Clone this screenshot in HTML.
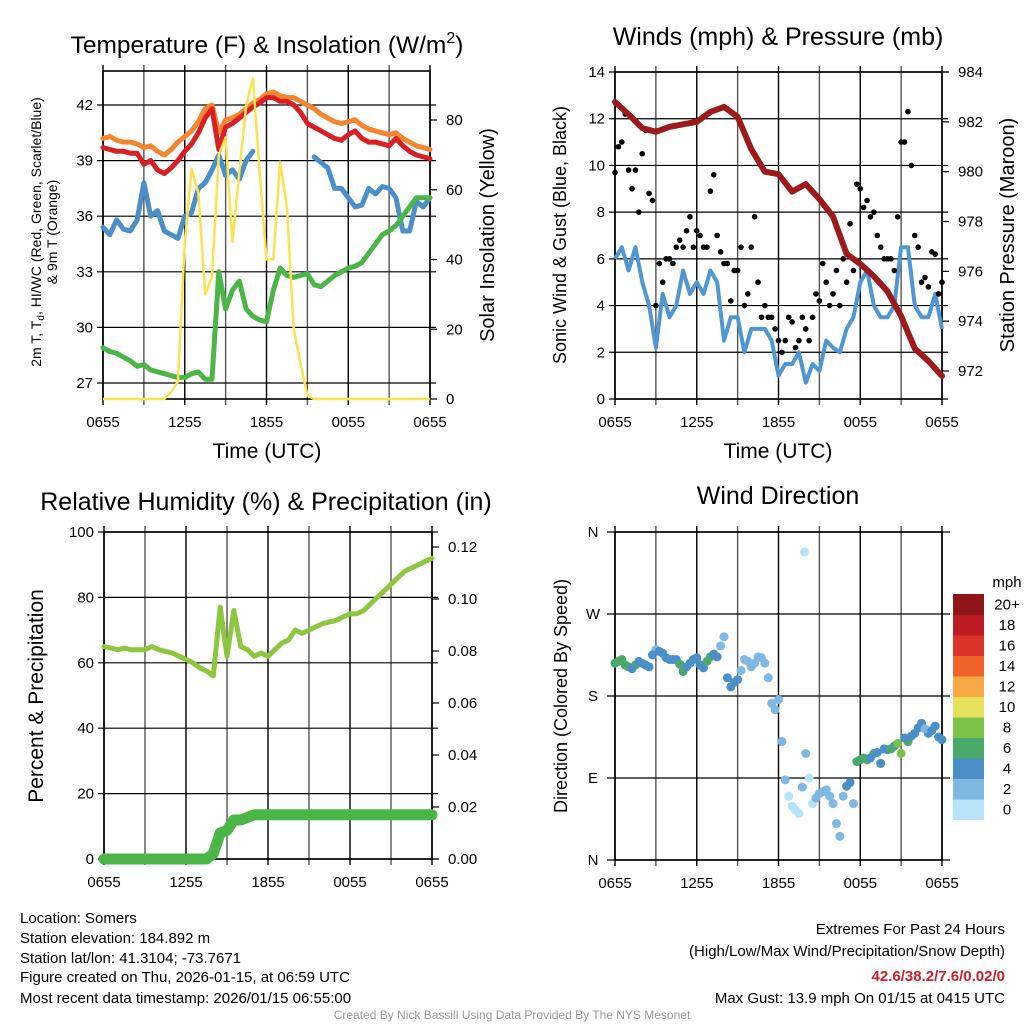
<!DOCTYPE html>
<html><head><meta charset="utf-8"><style>
html,body{margin:0;padding:0;background:#fff}
svg{display:block;font-family:"Liberation Sans",Arial,sans-serif}
</style></head><body>
<svg id="fig" width="1024" height="1024" viewBox="0 0 1024 1024" xmlns="http://www.w3.org/2000/svg">
<g id="static">
<text x="267" y="53" font-size="24.5" text-anchor="middle">Temperature (F) &amp; Insolation (W/m<tspan dy="-10" font-size="16">2</tspan><tspan dy="10">)</tspan></text>
<text x="778" y="45" font-size="25" text-anchor="middle">Winds (mph) &amp; Pressure (mb)</text>
<text x="266" y="510" font-size="25" text-anchor="middle">Relative Humidity (%) &amp; Precipitation (in)</text>
<text x="778" y="504" font-size="25" text-anchor="middle">Wind Direction</text>
<text x="267" y="458" font-size="21" text-anchor="middle">Time (UTC)</text>
<text x="778" y="458" font-size="21" text-anchor="middle">Time (UTC)</text>
<text transform="translate(41,232) rotate(-90)" font-size="14" text-anchor="middle">2m T, T<tspan dy="3" font-size="10">d</tspan><tspan dy="-3">, HI/WC (Red, Green, Scarlet/Blue)</tspan></text>
<text transform="translate(57,232) rotate(-90)" font-size="14" text-anchor="middle">&amp; 9m T (Orange)</text>
<text transform="translate(494,235) rotate(-90)" font-size="20" text-anchor="middle">Solar Insolation (Yellow)</text>
<text transform="translate(566,235) rotate(-90)" font-size="18" text-anchor="middle">Sonic Wind &amp; Gust (Blue, Black)</text>
<text transform="translate(1014,235) rotate(-90)" font-size="20" text-anchor="middle">Station Pressure (Maroon)</text>
<text transform="translate(43,696) rotate(-90)" font-size="21" text-anchor="middle">Percent &amp; Precipitation</text>
<text transform="translate(567,696) rotate(-90)" font-size="18" text-anchor="middle">Direction (Colored By Speed)</text>
<g font-size="15">
<text x="20" y="923">Location: Somers</text>
<text x="20" y="943">Station elevation: 184.892 m</text>
<text x="20" y="963">Station lat/lon: 41.3104; -73.7671</text>
<text x="20" y="982">Figure created on Thu, 2026-01-15, at 06:59 UTC</text>
<text x="20" y="1003">Most recent data timestamp: 2026/01/15 06:55:00</text>
</g>
<g font-size="15" text-anchor="end">
<text x="1005" y="934">Extremes For Past 24 Hours</text>
<text x="1005" y="956">(High/Low/Max Wind/Precipitation/Snow Depth)</text>
<text x="1005" y="981" fill="#c8202a" font-weight="bold">42.6/38.2/7.6/0.02/0</text>
<text x="1005" y="1003">Max Gust: 13.9 mph On 01/15 at 0415 UTC</text>
</g>
<text x="512" y="1019" font-size="12" fill="#999" text-anchor="middle">Created By Nick Bassill Using Data Provided By The NYS Mesonet</text>
</g>
<g id="dyn"></g>
</svg>
<script>
// ---- data (half-hourly, 0655 -> 0655) ----
var xTickLabels = ["0655","1255","1855","0055","0655"];
var tempTicks = [27,30,33,36,39,42];
var insolTicks = [0,20,40,60,80];
var tempRed = [39.7,39.6,39.5,39.5,39.4,39.4,38.8,39.0,38.5,38.3,38.6,39.0,39.5,39.9,40.5,41.3,41.8,39.6,40.8,41.0,41.3,41.6,41.9,42.1,42.4,42.4,42.2,42.2,42.0,41.6,41.0,40.8,40.6,40.4,40.2,40.1,40.4,40.6,40.2,40.0,40.0,39.9,39.8,40.2,39.8,39.5,39.3,39.2,39.1];
var tempOrange = [40.2,40.3,40.1,40.0,40.0,39.9,39.7,39.8,39.5,39.3,39.6,40.0,40.3,40.6,41.1,41.8,42.0,40.5,41.2,41.3,41.5,41.8,42.1,42.3,42.6,42.7,42.5,42.4,42.4,42.2,42.0,41.8,41.5,41.3,41.1,41.0,41.1,41.2,40.9,40.7,40.6,40.5,40.4,40.5,40.2,40.0,39.8,39.7,39.6];
var tempBlue = [35.4,35.0,35.8,35.3,35.2,35.8,37.8,36.0,36.3,35.2,35.0,34.8,36.0,36.2,37.5,37.8,38.5,39.3,38.2,38.5,38.0,39.0,39.5,null,null,null,null,null,null,null,null,39.2,38.9,38.6,37.5,37.5,37.0,36.5,36.6,37.5,37.2,37.6,37.5,37.0,35.2,35.2,36.8,36.5,37.0];
var tempGreen = [28.9,28.7,28.6,28.4,28.2,27.9,28.0,27.7,27.6,27.5,27.4,27.3,27.3,27.5,27.6,27.2,27.2,33.0,31.0,32.0,32.5,31.0,30.6,30.4,30.3,32.0,33.2,32.8,32.7,32.8,32.9,32.3,32.2,32.5,32.8,33.0,33.2,33.3,33.5,34.0,34.5,35.0,35.2,35.5,36.0,36.5,37.0,37.0,37.0];
var insolation = [0,0,0,0,0,0,0,0,0,0,2,5,45,66,59,30,35,70,75,45,65,84,92,65,40,40,68,55,20,10,1,0,0,0,0,0,0,0,0,0,0,0,0,0,0,0,0,0,0];
var windTicks = [0,2,4,6,8,10,12,14];
var pressTicks = [972,974,976,978,980,982,984];
var pressure = [982.8,982.3,981.75,981.6,981.8,981.9,982.0,982.4,982.6,982.2,980.9,980.0,979.9,979.2,979.5,978.9,978.2,976.7,976.3,975.8,975.2,974.2,972.9,972.4,971.8];
var windSpeed = [6,6.5,5.5,6.5,5,4,2.2,4.5,3.5,4,5.5,4.5,5,4.5,5.5,5,2.5,3.5,3.5,2,3,3,3,2.5,1,1.5,1.5,2,0.7,1.5,1.2,2.5,2.2,2,3,3.5,5,5.5,4,3.5,3.5,4,6.5,6.5,4,3.5,3.5,4.5,3];
var gustA = [9.7,11,9.8,9.8,10.5,8.8,4,5,6,6.5,6.5,7.8,7.2,6.5,8.9,7,5.8,4.2,5.5,4,6.5,5,4,3.5,2.5,2.5,3.3,2.5,3,3.5,4.2,5,4.5,4,5,5.5,9,8.5,8,6.5,6,5.5,11,12.3,7,5,4.8,6.2,5];
var gustB = [10.8,12.2,9,8,11.5,8.5,5.8,6,5.8,6.8,7.2,6.5,7,6.5,9.6,6.3,5.8,5.5,6.5,4.5,7.8,3.5,3.5,3.0,2,3.5,2.2,3.5,2.5,4.5,5.8,4,5.5,6,7.5,9.2,8.2,7.8,7,6,6,7.8,11,10,6.5,5.2,6.3,4.5];
var rhTicks = [0,20,40,60,80,100];
var precipTicks = [0,0.02,0.04,0.06,0.08,0.10,0.12];
var rh = [65,64.5,64,64.5,64,64,64,65,64,63.5,63,62,61,60,58.5,57.5,56,77,62,76,65,64,62,63,62,64,66,67,70,69,70,71,72,72.5,73,74,75,75,76,78,80,82,84,86,88,89,90,91,92];
var precip = [0,0,0,0,0,0,0,0,0,0,0,0,0,0,0,0,0.002,0.01,0.011,0.015,0.015,0.016,0.017,0.017,0.017,0.017,0.017,0.017,0.017,0.017,0.017,0.017,0.017,0.017,0.017,0.017,0.017,0.017,0.017,0.017,0.017,0.017,0.017,0.017,0.017,0.017,0.017,0.017,0.017];
var dirLabels = ["N","E","S","W","N"];
var dirA = [216,220,212,214,216,212,231,227,220,220,207,216,222,211,223,223,245,190,198,220,212,223,216,172,176,88,59,51,117,62,73,77,62,26,81,62,110,110,117,106,121,125,117,130,139,150,139,147,132];
var spdA = [6,6,6,6,4,4,2,4,4,4,6,4,4,4,6,4,2,4,4,2,2,2,2,2,2,2,0,0,2,0,2,2,2,2,4,2,6,6,6,4,4,4,8,6,4,4,4,4,4];
var dirB = [218,214,210,218,214,225,229,222,220,215,212,220,214,218,226,235,200,195,208,218,216,222,200,165,130,70,55,80,90,68,75,70,40,70,85,108,112,112,118,122,122,128,134,136,145,144,142,135];
var spdB = [6,6,4,4,4,4,4,4,4,6,4,4,4,6,4,2,4,4,2,2,2,2,2,2,2,0,0,2,0,2,2,2,2,2,4,6,6,4,4,4,6,8,4,4,4,2,4,4];
var outlierDir = [338]; var outlierHour = [13.9]; var outlierSpd = [0];
var cbLabels = ["0","2","4","6","8","10","12","14","16","18","20+"];
var cbColors = ["#b6e3f8","#7fb9e3","#4a8fc8","#4aa86a","#7bc24a","#e6e05a","#f6a945","#ef6229","#dc342b","#bd1c24","#8e1519"];

var NS="http://www.w3.org/2000/svg", dyn=document.getElementById('dyn');
function mk(tag,attrs,parent){var e=document.createElementNS(NS,tag);for(var k in attrs)e.setAttribute(k,attrs[k]);(parent||dyn).appendChild(e);return e;}
function lin(d0,d1,r0,r1){return function(v){return r0+(v-d0)/(d1-d0)*(r1-r0);};}
function pathFrom(vals,xf,yf){var d="",pen=false;vals.forEach(function(v,i){if(v===null){pen=false;return;}d+=(pen?"L":"M")+xf(i).toFixed(1)+","+yf(v).toFixed(1);pen=true;});return d;}

function frame(name,L,R,T,B){
  var g=mk('g',{});
  
  
  var xs=lin(0,24,L,R);
  for(var h=0;h<=24;h+=3){var x=xs(h);var gl=mk('line',{x1:x,x2:x,y1:T-6,y2:B+6,stroke:(h%6==0?'#000':'#555'),'stroke-width':1.4},g);}
  xTickLabels.forEach(function(t,i){var tx=mk('text',{x:xs(i*6),y:B+28,'font-size':15,'text-anchor':'middle'},g);tx.textContent=t;});
  var bx=mk('rect',{x:L,y:T,width:R-L,height:B-T,fill:'none',stroke:'#000','stroke-width':1.6},g);
  
  return g;
}
function hline(g,y,L,R,ext){var l=mk('line',{x1:L-ext,x2:R+ext,y1:y,y2:y,stroke:'#000','stroke-width':1.2},g);}
function ylabel(g,x,y,t,anchor){var e=mk('text',{x:x,y:y+5,'font-size':15,'text-anchor':anchor},g);e.textContent=t;}
function rtick(g,R,y){var l=mk('line',{x1:R,x2:R+7,y1:y,y2:y,stroke:'#000','stroke-width':1.2},g);}

// ---- Panel 1: temperature ----
(function(){
  var L=103,R=430,T=71,B=399;
  var g=frame('temperature',L,R,T,B);
  var xh=lin(0,48,L,R), yT=lin(27,42,383,105), yI=lin(0,80,399,120);
  tempTicks.forEach(function(v){hline(g,yT(v),L,R,6);ylabel(g,L-10,yT(v),String(v),'end');});
  insolTicks.forEach(function(v){rtick(g,R,yI(v));ylabel(g,R+16,yI(v),String(v),'start');});
  var series=[[tempOrange,'#f5852f','orange-9m-temp-line'],[tempRed,'#d81f26','red-2m-temp-line'],[tempBlue,'#4a8fca','blue-heat-index-line'],[tempGreen,'#4bb548','green-dewpoint-line']];
  series.forEach(function(s){var p=mk('path',{d:pathFrom(s[0],xh,yT),fill:'none',stroke:s[1],'stroke-width':5,'stroke-linejoin':'round','stroke-linecap':'round'});});
  var p=mk('path',{d:pathFrom(insolation,xh,yI),fill:'none',stroke:'#fde24f','stroke-width':2.5,'stroke-linejoin':'round'});
  
})();

// ---- Panel 2: winds & pressure ----
(function(){
  var L=615,R=942,T=72,B=399;
  var g=frame('winds',L,R,T,B);
  var xh=lin(0,48,L,R), xp=lin(0,24,L,R), yW=lin(0,14,399,72), yP=lin(972,984,371,72);
  windTicks.forEach(function(v){hline(g,yW(v),L,R,6);ylabel(g,L-10,yW(v),String(v),'end');});
  pressTicks.forEach(function(v){rtick(g,R,yP(v));ylabel(g,R+16,yP(v),String(v),'start');});
  var p=mk('path',{d:pathFrom(windSpeed,xh,yW),fill:'none',stroke:'#4f97d3','stroke-width':4,'stroke-linejoin':'round'});
  
  gustA.forEach(function(v,i){var c=mk('circle',{cx:xh(i),cy:yW(v),r:2.8,fill:'#000'});});
  gustB.forEach(function(v,i){var c=mk('circle',{cx:xh(i+0.5),cy:yW(v),r:2.8,fill:'#000'});});
  var q=mk('path',{d:pathFrom(pressure,xp,yP),fill:'none',stroke:'#9c1a1c','stroke-width':6,'stroke-linejoin':'round','stroke-linecap':'round'});
  
})();

// ---- Panel 3: RH & precip ----
(function(){
  var L=104,R=432,T=532,B=859;
  var g=frame('humidity',L,R,T,B);
  var xh=lin(0,48,L,R), yR=lin(0,100,859,532), yP=lin(0,0.12,859,547);
  rhTicks.forEach(function(v){hline(g,yR(v),L,R,6);ylabel(g,L-10,yR(v),String(v),'end');});
  precipTicks.forEach(function(v){rtick(g,R,yP(v));ylabel(g,R+16,yP(v),v.toFixed(2),'start');});
  var p=mk('path',{d:pathFrom(rh,xh,yR),fill:'none',stroke:'#8dc63f','stroke-width':5,'stroke-linejoin':'round','stroke-linecap':'round'});
  
  var q=mk('path',{d:pathFrom(precip,xh,yP),fill:'none',stroke:'#4bb548','stroke-width':11,'stroke-linejoin':'round','stroke-linecap':'round'});
  
})();

// ---- Panel 4: wind direction ----
(function(){
  var L=615,R=942,T=532,B=860;
  var g=frame('wind-direction',L,R,T,B);
  var xh=lin(0,48,L,R), xhr=lin(0,24,L,R), yD=lin(0,360,860,532);
  dirLabels.forEach(function(t,i){var y=yD(i*90);hline(g,y,L,R,8);ylabel(g,L-22,y,t,'middle');});
  function col(s){var i=Math.min(10,Math.max(0,Math.round(s/2)));return cbColors[i];}
  dirA.forEach(function(v,i){var c=mk('circle',{cx:xh(i),cy:yD(v),r:4.5,fill:col(spdA[i])});});
  dirB.forEach(function(v,i){var c=mk('circle',{cx:xh(i+0.5),cy:yD(v),r:4.5,fill:col(spdB[i])});});
  outlierDir.forEach(function(v,i){var c=mk('circle',{cx:xhr(outlierHour[i]),cy:yD(v),r:4.5,fill:col(outlierSpd[i])});});
  var cb=mk('g',{});
  
  var top=594,bh=20.5;
  var u=mk('text',{x:1007,y:587,'font-size':15,'text-anchor':'middle'},cb);u.textContent='mph';
  
  cbColors.forEach(function(c,i){var y=top+(10-i)*bh;var r=mk('rect',{x:953,y:y,width:31,height:bh+0.5,fill:c},cb);
    var t=mk('text',{x:1007,y:y+bh/2+5,'font-size':15,'text-anchor':'middle'},cb);t.textContent=cbLabels[i];});
})();
</script>
</body></html>
